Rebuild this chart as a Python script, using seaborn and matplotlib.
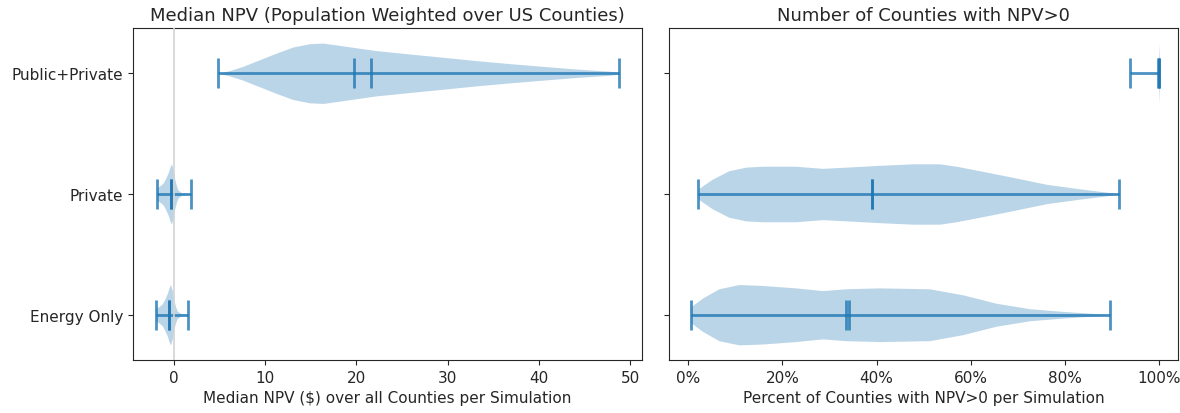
import matplotlib
matplotlib.use("Agg")
import matplotlib.pyplot as plt
import seaborn as sns
import numpy as np
from matplotlib.ticker import PercentFormatter

sns.set_style("ticks")
plt.rcParams['font.family'] = ['DejaVu Sans']
plt.rcParams['font.size'] = 11
plt.rcParams['axes.titlesize'] = 13

scenarios = ['Energy Only', 'Private', 'Public+Private']

# Left panel: median NPV ($) per simulation, summary stats
npv_min = [-1.98, -1.87, 4.87]
npv_max = [1.59, 1.88, 48.8]
npv_median = [-0.49, -0.34, 19.8]
npv_mean = [-0.46, -0.31, 21.65]

# estimated violin outlines (relative half-width along the value axis)
npv_energy_x = [-1.98, -1.6, -1.25, -1.0, -0.7, -0.49, -0.34, -0.16, 0.02, 0.21, 0.39, 0.75, 1.59]
npv_energy_w = [0.2, 0.27, 0.36, 0.5, 0.7, 0.9, 1.0, 0.82, 0.5, 0.27, 0.13, 0.05, 0.01]
npv_private_x = [-1.87, -1.51, -1.15, -0.9, -0.6, -0.39, -0.24, -0.06, 0.12, 0.31, 0.49, 0.85, 1.88]
npv_private_w = [0.2, 0.27, 0.36, 0.5, 0.7, 0.9, 1.0, 0.82, 0.5, 0.27, 0.13, 0.05, 0.01]
npv_public_x = [4.87, 6.15, 7.6, 9.43, 11.26, 13.07, 14.9, 16.36, 17.8, 19.64, 22.2, 25.8, 29.5, 33.1, 36.8, 40.4, 44.1, 47.7, 48.8]
npv_public_w = [0.0, 0.09, 0.23, 0.45, 0.67, 0.87, 0.98, 1.0, 0.94, 0.86, 0.75, 0.64, 0.53, 0.42, 0.32, 0.23, 0.14, 0.07, 0.03]

# Right panel: share of counties with NPV>0 per simulation
pct_min = [0.005, 0.021, 0.938]
pct_max = [0.895, 0.915, 1.0]
pct_median = [0.341, 0.390, 1.0]
pct_mean = [0.336, 0.390, 0.998]

pct_energy_x = [0.005, 0.030, 0.065, 0.108, 0.157, 0.228, 0.285, 0.335, 0.406, 0.512, 0.583, 0.654, 0.725, 0.796, 0.895]
pct_energy_w = [0.26, 0.55, 0.86, 1.0, 0.97, 0.89, 0.8, 0.86, 0.89, 0.86, 0.66, 0.38, 0.2, 0.11, 0.01]
pct_private_x = [0.021, 0.051, 0.086, 0.122, 0.157, 0.228, 0.285, 0.335, 0.406, 0.477, 0.534, 0.569, 0.619, 0.690, 0.761, 0.832, 0.915]
pct_private_w = [0.17, 0.49, 0.77, 0.89, 0.92, 0.92, 0.85, 0.89, 0.95, 1.0, 1.0, 0.92, 0.77, 0.55, 0.32, 0.17, 0.01]
pct_public_x = [0.938, 0.99, 0.997, 1.0]
pct_public_w = [0.0, 0.0, 0.02, 1.0]


def make_stats(xs, ws, mins, maxs, medians, means):
    stats = []
    for x, w, lo, hi, med, mu in zip(xs, ws, mins, maxs, medians, means):
        stats.append({'coords': np.array(x), 'vals': np.array(w),
                      'min': lo, 'max': hi, 'median': med, 'mean': mu})
    return stats


def draw(ax, stats, color):
    parts = ax.violin(stats, positions=[1, 2, 3], widths=0.5,
                      orientation='horizontal', showmeans=True,
                      showmedians=True, showextrema=True)
    for body in parts['bodies']:
        body.set_facecolor(color)
        body.set_linewidth(0)
        body.set_alpha(0.3)
    for key in ['cmins', 'cmaxes', 'cbars', 'cmeans', 'cmedians']:
        parts[key].set_color(color)
        parts[key].set_linewidth(2)
        parts[key].set_alpha(0.8)


color = sns.color_palette("tab10")[0]

fig, (ax1, ax2) = plt.subplots(1, 2, figsize=(11.8, 4.14), dpi=100, sharey=True)
fig.subplots_adjust(left=0.1127, right=0.9983, top=0.93, bottom=0.128, wspace=0.053)

draw(ax1, make_stats([npv_energy_x, npv_private_x, npv_public_x],
                     [npv_energy_w, npv_private_w, npv_public_w],
                     npv_min, npv_max, npv_median, npv_mean), color)
ax1.axvline(0, color='lightgray', linewidth=1.2, zorder=3)
ax1.set_xlim(-4.45, 51.3)
ax1.set_ylim(0.625, 3.375)
ax1.set_yticks([1, 2, 3])
ax1.set_yticklabels(scenarios)
ax1.set_title('Median NPV (Population Weighted over US Counties)')
ax1.set_xlabel('Median NPV ($) over all Counties per Simulation')

draw(ax2, make_stats([pct_energy_x, pct_private_x, pct_public_x],
                     [pct_energy_w, pct_private_w, pct_public_w],
                     pct_min, pct_max, pct_median, pct_mean), color)
ax2.set_xlim(-0.041, 1.04)
ax2.xaxis.set_major_formatter(PercentFormatter(1.0, decimals=0))
ax2.set_title('Number of Counties with NPV>0')
ax2.set_xlabel('Percent of Counties with NPV>0 per Simulation')

fig.savefig('out.png', dpi=100)
